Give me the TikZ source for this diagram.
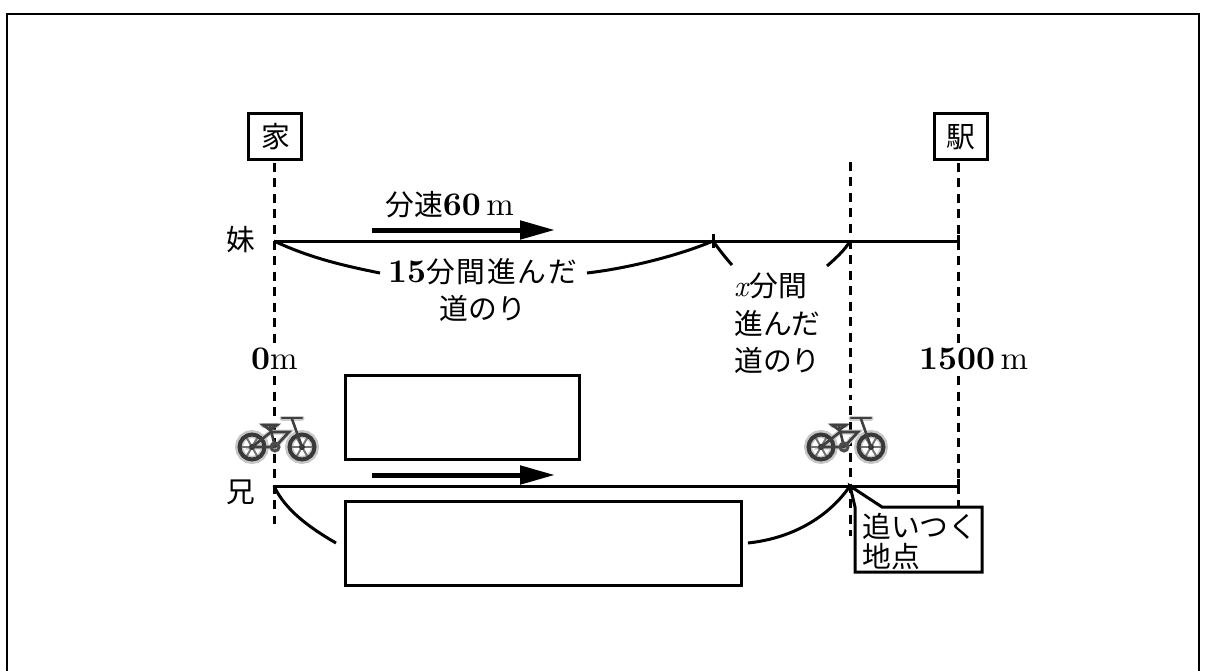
\documentclass[tikz,border=0pt]{standalone}
\usepackage{fontspec}
\setmainfont{lmroman10-regular.otf}[BoldFont=lmroman10-bold.otf,ItalicFont=lmroman10-italic.otf]
\usetikzlibrary{arrows.meta}
\newfontfamily\cjk{Noto Sans CJK JP}[Scale=0.96]
\newfontfamily\cjkw{Noto Sans CJK JP}[Scale=0.96,LetterSpace=6]
\tikzset{
  x=1pt,y=-1pt,
  frameline/.style={line width=2.6pt,black},
  guide/.style={line width=3pt,black,dash pattern=on 9pt off 6.5pt},
  road/.style={line width=3pt,black},
  brace/.style={line width=3pt,black},
  labelbox/.style={draw,line width=3pt,fill=white,inner sep=0pt,anchor=north west},
  lbl/.style={font=\fontsize{30}{34}\selectfont,inner sep=0pt,align=center},
  num/.style={font=\fontsize{33}{36}\selectfont,inner sep=0pt},
  speed/.style={line width=5pt,-{Triangle[length=35pt,width=18pt]}},
  wheelhalo/.style={line width=8pt,black!22},
  wheel/.style={line width=4pt,black!78},
  spoke/.style={line width=2pt,black!55},
  frmhalo/.style={line width=5pt,black!20,line cap=round},
  frm/.style={line width=2.6pt,black!75,line cap=round},
}
\newcommand{\bikeat}[2]{%
  \begin{scope}[shift={(#1,#2)}]
    \draw[frmhalo] (-25,0) -- (-6,-15) -- (12,-15) -- (-2,0) -- cycle;
    \draw[frmhalo] (-14,-22) -- (0,-22);
    \draw[frmhalo] (5,-29) -- (25,-29);
    \foreach \c in {-25,25}{
      \draw[wheelhalo] (\c,0) circle[radius=13];
      \foreach \a in {0,60,120}{\draw[spoke] (\c,0)++(\a:12) -- ++(\a+180:24);}
      \draw[wheel] (\c,0) circle[radius=12.5];
      \fill[black!80] (\c,0) circle[radius=3];
    }
    \draw[frm] (-25,0) -- (-6,-15) -- (12,-15) -- (-2,0) -- cycle;
    \draw[frm] (-2,0) -- (-7,-21);
    \draw[frm] (25,0) -- (15,-28);
    \draw[frm] (-14,-22) -- (0,-22) -- (-7,-17) -- cycle;
    \draw[frm] (5,-29) -- (25,-29);
    \draw[black!70,line width=3pt] (-2,0) circle[radius=4];
  \end{scope}}
\begin{document}
\begin{tikzpicture}
\useasboundingbox (0,0) rectangle (1207,671);
\draw[frameline] (7,680) -- (7,14) -- (1199,14) -- (1199,680);
% guides
\coordinate (gaT) at (274,163); \coordinate (gaB) at (274,345);
\coordinate (gbT) at (850,162); \coordinate (gbB) at (850,400);
\coordinate (gcT) at (958,163); \coordinate (gcB) at (958,345);
\coordinate (gdT) at (274,376); \coordinate (gdB) at (274,524);
\coordinate (geT) at (850,406); \coordinate (geB) at (850,536);
\coordinate (gfT) at (958,376); \coordinate (gfB) at (958,507);
\foreach \p/\q in {gaT/gaB,gbT/gbB,gcT/gcB,gdT/gdB,geT/geB,gfT/gfB}{\draw[guide] (\p) -- (\q);}
% top road
\coordinate (r1a) at (274,241); \coordinate (r1b) at (713,241); \coordinate (r1c) at (850,241); \coordinate (r1d) at (958,241);
\draw[road] (r1a) -- (r1d);
\draw[road] (r1d)++(0,-6) -- ++(0,12);
\draw[road] (r1b)++(0,-7) -- ++(0,14);
% bottom road
\coordinate (r2a) at (274,486); \coordinate (r2c) at (850,486); \coordinate (r2d) at (958,486);
\draw[road] (r2a) -- (r2d);
\draw[road] (r2d)++(0,-7) -- ++(0,14);
% speed arrows
\coordinate (s1a) at (372,230); \coordinate (s1b) at (555,230);
\coordinate (s2a) at (372,475); \coordinate (s2b) at (555,475);
\draw[speed] (s1a) -- (s1b);
\draw[speed] (s2a) -- (s2b);
% curves
\coordinate (c1) at (380,273); \coordinate (c2) at (587,273);
\draw[brace] (r1a) .. controls (310,258) and (345,266) .. (c1);
\draw[brace] (c2) .. controls (630,268) and (680,255) .. (r1b);
\coordinate (c3) at (732,265); \coordinate (c4) at (827,266);
\draw[brace] (r1b) .. controls (718,248) and (724,256) .. (c3);
\draw[brace] (c4) .. controls (836,258) and (845,250) .. (r1c);
\coordinate (c5) at (336,543); \coordinate (c6) at (748,543);
\draw[brace] (r2a) .. controls (285,510) and (310,528) .. (c5);
\draw[brace] (c6) .. controls (795,538) and (830,515) .. (r2c);
% boxes
\node[labelbox,minimum width=234pt,minimum height=84pt] (blank1) at (343.5,373.5) {};
\node[labelbox,minimum width=396pt,minimum height=84pt] (blank2) at (343.5,499.5) {};
\draw[line width=3pt,fill=white,line join=miter] (850,486) -- (882,507) -- (982,507) -- (982,572) -- (855,572) -- (855,507) -- cycle;
\node[lbl,anchor=west] (meettxt) at (862,526) {\cjk 追いつく};
\node[lbl,anchor=west] (meettxt2) at (862,557) {\cjk 地点};
\node[labelbox,minimum width=53pt,minimum height=46pt] (ie) at (247,112.5) {};
\node[lbl] (ietxt) at (276,137) {\cjk 家};
\node[labelbox,minimum width=53pt,minimum height=46pt] (eki) at (933,112.5) {};
\node[lbl] (ekitxt) at (961,137) {\cjk 駅};
% texts
\node[lbl] (imo) at (241,240) {\cjk 妹};
\node[lbl] (ani) at (241,492) {\cjk 兄};
\node[lbl,anchor=base west] (sp) at (385,215) {{\cjk 分速}\fontsize{33}{36}\selectfont\textbf{60}\,m};
\node[lbl,anchor=base west] (t1) at (388,282) {\fontsize{33}{36}\selectfont\textbf{15}{\fontsize{30}{34}\selectfont\cjkw 分間進んだ}};
\node[lbl,anchor=base] (t2) at (483,319) {\cjk 道のり};
\node[lbl,anchor=base west] (t3) at (734,296) {\textit{x}{\cjk 分間}};
\node[lbl,anchor=base west] (t4) at (734,334) {\cjk 進んだ};
\node[lbl,anchor=base west] (t5) at (734,371) {\cjk 道のり};
\node[num,anchor=base west] (z) at (251,369) {\textbf{0}m};
\node[num,anchor=base west] (e) at (919,369) {\textbf{1500}\,m};
\bikeat{277}{447}
\bikeat{846}{447}
\end{tikzpicture}
\end{document}
